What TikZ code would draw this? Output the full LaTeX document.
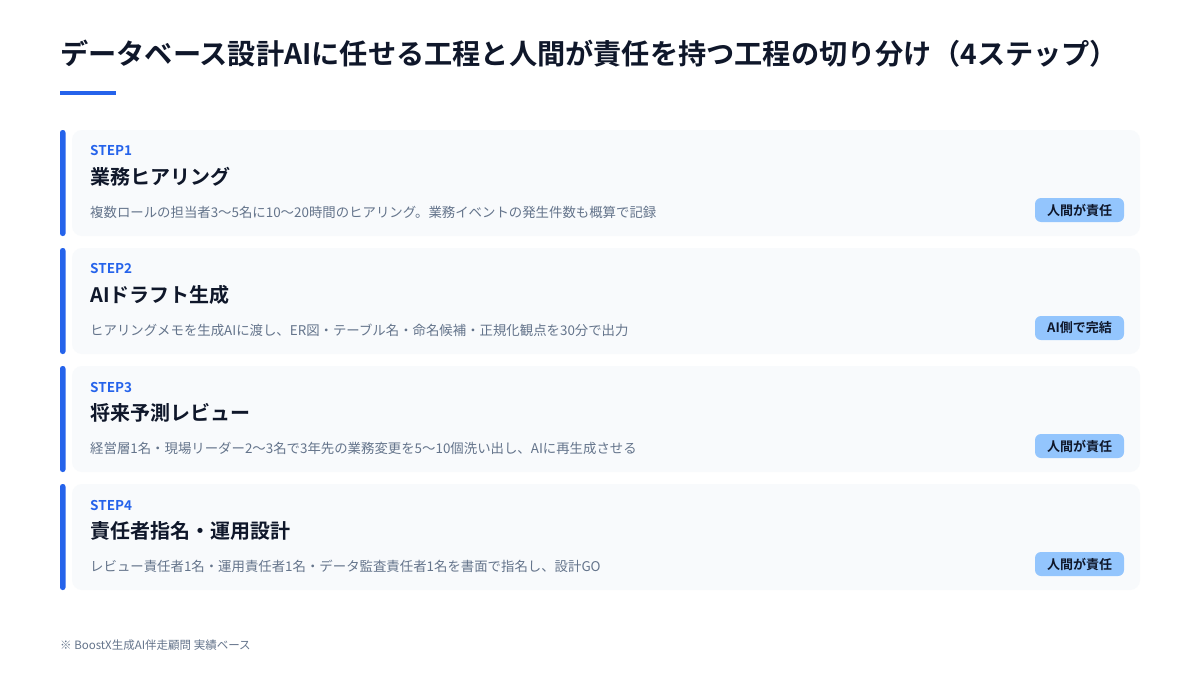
\documentclass[tikz,border=0pt]{standalone}
\usepackage{fontspec}
\setmainfont{Noto Sans CJK JP}
\newfontfamily\jpbold{Noto Sans CJK JP Bold}
\definecolor{titlec}{HTML}{0F172A}
\definecolor{accent}{HTML}{2563EB}
\definecolor{cardfill}{HTML}{F8FAFC}
\definecolor{descc}{HTML}{64748B}
\definecolor{badgefill}{HTML}{93C5FD}
\definecolor{badgetext}{HTML}{0F172A}
\tikzset{
  cardbox/.style={fill=cardfill, rounded corners=10pt, draw=none},
  sidebar/.style={fill=accent, rounded corners=2.5pt, draw=none},
  steplabel/.style={anchor=west, inner sep=0pt, text=accent, font=\jpbold\fontsize{13.5}{16}\selectfont},
  heading/.style={anchor=west, inner sep=0pt, text=titlec, font=\jpbold\fontsize{20}{24}\selectfont},
  desc/.style={anchor=west, inner sep=0pt, text=descc, font=\fontsize{13.4}{16}\selectfont},
  badge/.style={fill=badgefill, rounded corners=6pt, text=badgetext, font=\jpbold\fontsize{13}{15}\selectfont, minimum width=89pt, minimum height=24pt, inner sep=0pt},
}
\begin{document}
\begin{tikzpicture}[x=1pt,y=-1pt]
\useasboundingbox (0,0) rectangle (1200,675);
\fill[white] (0,0) rectangle (1200,675);
\node[anchor=west, inner sep=0pt, text=titlec, font=\jpbold\fontsize{28.2}{34}\selectfont] (title) at (60,54) {データベース設計AIに任せる工程と人間が責任を持つ工程の切り分け（4ステップ）};
\fill[accent] (60,91) rectangle (116,95);
\foreach \i/\top/\stp/\head/\txt/\bdg in {
 1/130/STEP1/業務ヒアリング/複数ロールの担当者3〜5名に10〜20時間のヒアリング。業務イベントの発生件数も概算で記録/人間が責任,
 2/248/STEP2/AIドラフト生成/ヒアリングメモを生成AIに渡し、ER図・テーブル名・命名候補・正規化観点を30分で出力/AI側で完結,
 3/366/STEP3/将来予測レビュー/経営層1名・現場リーダー2〜3名で3年先の業務変更を5〜10個洗い出し、AIに再生成させる/人間が責任,
 4/484/STEP4/責任者指名・運用設計/レビュー責任者1名・運用責任者1名・データ監査責任者1名を書面で指名し、設計GO/人間が責任}{
  \fill[cardbox] (72,\top) rectangle (1140,\top+106);
  \fill[sidebar] (60,\top) rectangle (65.5,\top+106);
  \node[steplabel] (step\i) at (90,\top+21) {\stp};
  \node[heading] (head\i) at (90,\top+47) {\head};
  \node[desc] (desc\i) at (90,\top+82) {\txt};
  \node[badge] (badge\i) at (1079.5,\top+80) {\bdg};
}
\node[anchor=west, inner sep=0pt, text=descc, font=\fontsize{11.5}{13}\selectfont] (foot) at (60,645) {※ BoostX生成AI伴走顧問 実績ベース};
\end{tikzpicture}
\end{document}
